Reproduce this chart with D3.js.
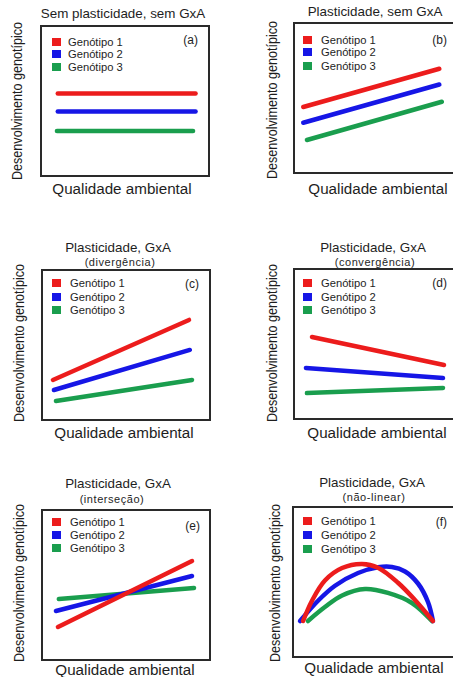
<!DOCTYPE html>
<html><head><meta charset="utf-8">
<script src="https://cdn.jsdelivr.net/npm/d3@7"></script>
<style>
html,body{margin:0;padding:0;background:#fff;}
svg{display:block;}
text{font-family:"Liberation Sans",Arial,sans-serif;fill:#1e1e1e;}
</style></head><body>
<svg id="chart" width="453" height="677"></svg>
<script>
// ---- text data ----
const genotypes = ["Genótipo 1", "Genótipo 2", "Genótipo 3"];
const titles = ["Sem plasticidade, sem GxA", "Plasticidade, sem GxA", "Plasticidade, GxA", "Plasticidade, GxA", "Plasticidade, GxA", "Plasticidade, GxA"];
const subtitles = [null, null, "(divergência)", "(convergência)", "(interseção)", "(não-linear)"];
const letters = ["(a)", "(b)", "(c)", "(d)", "(e)", "(f)"];
const xLabel = "Qualidade ambiental";
const yLabel = "Desenvolvimento genotípico";

// ---- series data (x: environment quality 0-10, y: genotypic performance 0-10) ----
const a_g1 = [[1.0, 5.5], [9.2, 5.5]];
const a_g2 = [[1.0, 4.3], [9.2, 4.3]];
const a_g3 = [[0.95, 3.0], [9.05, 3.0]];

const b_g1 = [[0.55, 4.4], [8.65, 6.95]];
const b_g2 = [[0.55, 3.35], [8.65, 5.9]];
const b_g3 = [[0.77, 2.2], [8.8, 4.75]];

const c_g1 = [[0.65, 2.67], [8.75, 6.67]];
const c_g2 = [[0.71, 2.0], [8.8, 4.67]];
const c_g3 = [[0.83, 1.27], [8.93, 2.67]];

const d_g1 = [[1.07, 5.47], [8.93, 3.6]];
const d_g2 = [[0.71, 3.4], [8.87, 2.73]];
const d_g3 = [[0.77, 1.73], [8.87, 2.07]];

const e_g1 = [[0.95, 2.2], [8.93, 6.6]];
const e_g2 = [[0.83, 3.27], [8.93, 5.6]];
const e_g3 = [[1.0, 4.07], [9.05, 4.8]];

const f_g1 = [[0.6, 2.4], [1.13, 3.75], [1.9, 5.1], [2.92, 5.93], [4.11, 6.2], [5.06, 5.95], [6.25, 4.95], [7.26, 3.8], [8.33, 2.4]];
const f_g2 = [[0.42, 2.4], [1.49, 3.75], [2.5, 4.75], [3.87, 5.6], [5.06, 5.98], [5.89, 6.0], [6.67, 5.7], [7.44, 4.9], [8.04, 3.65], [8.33, 2.4]];
const f_g3 = [[0.89, 2.4], [1.9, 3.33], [2.92, 4.1], [4.29, 4.53], [5.65, 4.27], [7.08, 3.6], [8.27, 2.4]];

const panelSeries = [
  [a_g1, a_g2, a_g3], [b_g1, b_g2, b_g3], [c_g1, c_g2, c_g3],
  [d_g1, d_g2, d_g3], [e_g1, e_g2, e_g3], [f_g1, f_g2, f_g3]
];

// ---- layout (positions & styles) ----
const lineColors = ["#ec1c1c", "#1616e6", "#1a9e4e"];
const boxW = 168, boxH = 150;
const layout = [
  {box: [41, 26],  title: [123, 18],  sub: null,      xl: [122, 194], yl: [22, 101],  leg: [52, 68, [42, 54, 67]],     let: [198, 44], curve: false},
  {box: [294, 23], title: [375, 16],  sub: null,      xl: [378, 194], yl: [277, 100], leg: [303, 321, [40, 52, 66]],   let: [447, 44], curve: false},
  {box: [42, 270], title: [118, 252], sub: [120, 266], xl: [124, 438], yl: [24, 343], leg: [52, 70, [283, 297, 310]], let: [199, 288], curve: false},
  {box: [294, 269], title: [373, 252], sub: [375, 266], xl: [377, 438], yl: [277, 343], leg: [303, 321, [283, 297, 310]], let: [447, 287], curve: false},
  {box: [42, 510], title: [118, 488], sub: [112, 503], xl: [125, 675], yl: [24, 583], leg: [52, 70, [522, 535, 548]], let: [200, 530], curve: false},
  {box: [293, 507], title: [372, 487], sub: [374, 501], xl: [374, 673], yl: [280, 583], leg: [303, 321, [521, 535, 549]], let: [447, 526], curve: true}
];

const svg = d3.select("#chart");

layout.forEach((L, i) => {
  const g = svg.append("g");
  const [bx, by] = L.box;
  const x = d3.scaleLinear().domain([0, 10]).range([bx, bx + boxW]);
  const y = d3.scaleLinear().domain([0, 10]).range([by + boxH, by]);

  // frame
  g.append("rect").attr("x", bx).attr("y", by).attr("width", boxW).attr("height", boxH)
    .attr("fill", "none").attr("stroke", "#2a2a2a").attr("stroke-width", 2);

  // title & subtitle
  g.append("text").attr("x", L.title[0]).attr("y", L.title[1]).attr("text-anchor", "middle")
    .attr("font-size", 13.4).text(titles[i]);
  if (subtitles[i]) {
    g.append("text").attr("x", L.sub[0]).attr("y", L.sub[1]).attr("text-anchor", "middle")
      .attr("font-size", 11).attr("letter-spacing", 0.55).attr("fill", "#333").text(subtitles[i]);
  }

  // axis labels
  g.append("text").attr("x", L.xl[0]).attr("y", L.xl[1]).attr("text-anchor", "middle")
    .attr("font-size", 15.2).text(xLabel);
  g.append("text").attr("transform", `translate(${L.yl[0]},${L.yl[1]}) rotate(-90)`)
    .attr("text-anchor", "middle").attr("font-size", 14)
    .attr("textLength", 158).attr("lengthAdjust", "spacingAndGlyphs").text(yLabel);

  // panel letter
  g.append("text").attr("x", L.let[0]).attr("y", L.let[1]).attr("text-anchor", "end")
    .attr("font-size", 12).attr("fill", "#333").text(letters[i]);

  // legend
  genotypes.forEach((name, k) => {
    const cy = L.leg[2][k];
    g.append("rect").attr("x", L.leg[0]).attr("y", cy - 4).attr("width", 9).attr("height", 8)
      .attr("fill", lineColors[k]);
    g.append("text").attr("x", L.leg[1]).attr("y", cy + 4).attr("font-size", 11.2)
      .attr("fill", "#333").text(name);
  });

  // series lines (draw genotype 3 first, genotype 1 on top)
  const line = d3.line().x(d => x(d[0])).y(d => y(d[1]));
  if (L.curve) line.curve(d3.curveCatmullRom.alpha(0.5));
  [2, 1, 0].forEach(k => {
    g.append("path").datum(panelSeries[i][k]).attr("d", line)
      .attr("fill", "none").attr("stroke", lineColors[k]).attr("stroke-width", 4.5)
      .attr("stroke-linecap", "round").attr("stroke-linejoin", "round");
  });
});
</script>
</body></html>
